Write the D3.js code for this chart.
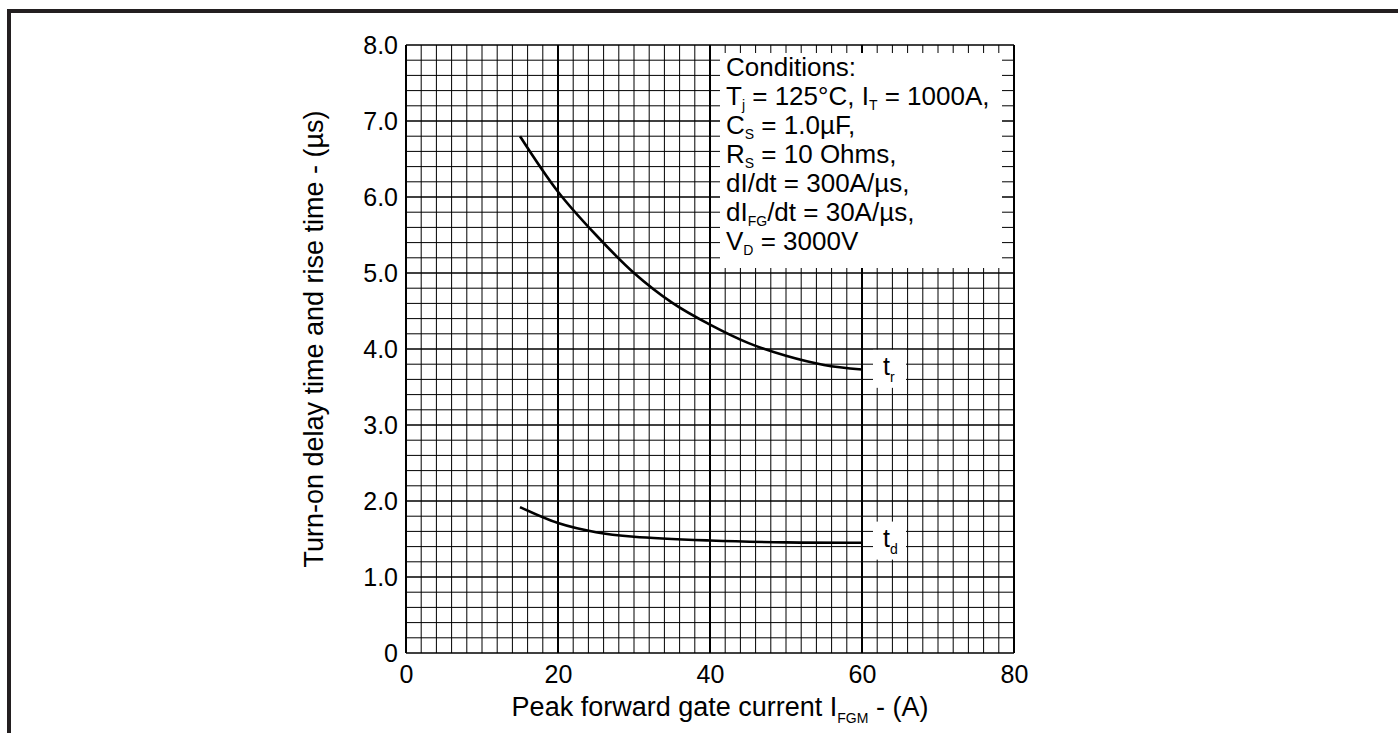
<!DOCTYPE html>
<html>
<head>
<meta charset="utf-8">
<style>
    body { margin: 0; background: #fff; }
    svg text { font-family: 'Liberation Sans', Arial, sans-serif; fill: #000; }
</style>
</head>
<body>
<svg id="chart" width="1398" height="733"></svg>
<script src="https://d3js.org/d3.v7.min.js"></script>
<script>
    // values
    var xTicks = [0, 20, 40, 60, 80];
    var yTicks = [0, 1, 2, 3, 4, 5, 6, 7, 8];
    var yTickLabels = ["0", "1.0", "2.0", "3.0", "4.0", "5.0", "6.0", "7.0", "8.0"];

    var trCurrent = [15, 20, 25, 30, 35, 40, 45, 50, 55, 60];
    var trTime = [6.80, 6.07, 5.50, 5.00, 4.61, 4.32, 4.08, 3.91, 3.79, 3.73];

    var tdCurrent = [15, 20, 25, 30, 40, 50, 60];
    var tdTime = [1.92, 1.71, 1.59, 1.53, 1.48, 1.455, 1.45];

    var conditions = [
        [["Conditions:", 0]],
        [["T", 0], ["j", 1], [" = 125°C, I", 0], ["T", 1], [" = 1000A,", 0]],
        [["C", 0], ["S", 1], [" = 1.0µF,", 0]],
        [["R", 0], ["S", 1], [" = 10 Ohms,", 0]],
        [["dI/dt = 300A/µs,", 0]],
        [["dI", 0], ["FG", 1], ["/dt = 30A/µs,", 0]],
        [["V", 0], ["D", 1], [" = 3000V", 0]]
    ];

    var svg = d3.select("#chart");

    // outer frame
    svg.append("rect")
        .attr("x", 9).attr("y", 11)
        .attr("width", 1420).attr("height", 760)
        .attr("fill", "none")
        .attr("stroke", "#231f20")
        .attr("stroke-width", 4);

    var x = d3.scaleLinear().domain([0, 80]).range([406, 1014]);
    var y = d3.scaleLinear().domain([0, 8]).range([653, 45]);

    // grid
    var grid = svg.append("g");
    grid.selectAll(".vx").data(d3.range(0, 81, 2)).join("line")
        .attr("x1", d => x(d)).attr("x2", d => x(d))
        .attr("y1", y(0)).attr("y2", y(8))
        .attr("stroke", "#000")
        .attr("stroke-width", d => d % 20 == 0 ? 2 : 1);
    grid.selectAll(".hy").data(d3.range(0, 41)).join("line")
        .attr("y1", d => y(d / 5)).attr("y2", d => y(d / 5))
        .attr("x1", x(0)).attr("x2", x(80))
        .attr("stroke", "#000")
        .attr("stroke-width", d => d % 5 == 0 ? 1.6 : 1);

    // white panel behind conditions
    svg.append("rect")
        .attr("x", 720).attr("y", 53)
        .attr("width", 282).attr("height", 215)
        .attr("fill", "#fff");

    conditions.forEach(function(line, i) {
        var lt = svg.append("text")
            .attr("x", 726).attr("y", 76 + i * 29)
            .style("font-size", "26px");
        line.forEach(function(part, j) {
            var t = lt.append("tspan").text(part[0]);
            if (part[1]) {
                t.style("font-size", "14px").attr("dy", 5);
            } else if (j > 0 && line[j - 1][1]) {
                t.attr("dy", -5);
            }
        });
    });

    // axes (labels only)
    var xAxis = d3.axisBottom(x).tickValues(xTicks).tickSize(0).tickPadding(12);
    svg.append("g").attr("transform", "translate(0," + y(0) + ")").call(xAxis)
        .call(g => g.select(".domain").remove())
        .selectAll("text").style("font-size", "25px")
        .style("font-family", "'Liberation Sans', Arial, sans-serif");

    var yAxis = d3.axisLeft(y).tickValues(yTicks).tickSize(0).tickPadding(8)
        .tickFormat((d, i) => yTickLabels[i]);
    svg.append("g").attr("transform", "translate(" + x(0) + ",0)").call(yAxis)
        .call(g => g.select(".domain").remove())
        .selectAll("text").style("font-size", "25px")
        .style("font-family", "'Liberation Sans', Arial, sans-serif");

    // curves
    var line = d3.line().x(d => x(d[0])).y(d => y(d[1])).curve(d3.curveCatmullRom.alpha(0.5));
    svg.append("path")
        .datum(trCurrent.map((c, i) => [c, trTime[i]]))
        .attr("d", line).attr("fill", "none")
        .attr("stroke", "#000").attr("stroke-width", 2.6);
    svg.append("path")
        .datum(tdCurrent.map((c, i) => [c, tdTime[i]]))
        .attr("d", line).attr("fill", "none")
        .attr("stroke", "#000").attr("stroke-width", 2.6);

    // curve labels: name, subscript, value level of the baseline
    var curveLabels = [["t", "r", 3.66], ["t", "d", 1.40]];
    curveLabels.forEach(function(c) {
        var by = y(c[2]);
        svg.append("rect")
            .attr("x", 873).attr("y", by - 25)
            .attr("width", 33).attr("height", 38)
            .attr("fill", "#fff");
        var t = svg.append("text").attr("x", 883).attr("y", by)
            .style("font-size", "25px");
        t.append("tspan").text(c[0]);
        t.append("tspan").text(c[1]).style("font-size", "14px").attr("dy", 7);
    });

    // axis titles
    var xt = svg.append("text")
        .attr("x", 720).attr("y", 716)
        .attr("text-anchor", "middle")
        .style("font-size", "27px");
    xt.append("tspan").text("Peak forward gate current I");
    xt.append("tspan").text("FGM").style("font-size", "14px").attr("dy", 7);
    xt.append("tspan").text(" - (A)").attr("dy", -7);

    svg.append("text")
        .attr("transform", "translate(323,339) rotate(-90)")
        .attr("text-anchor", "middle")
        .style("font-size", "27px")
        .text("Turn-on delay time and rise time - (µs)");
</script>
</body>
</html>
